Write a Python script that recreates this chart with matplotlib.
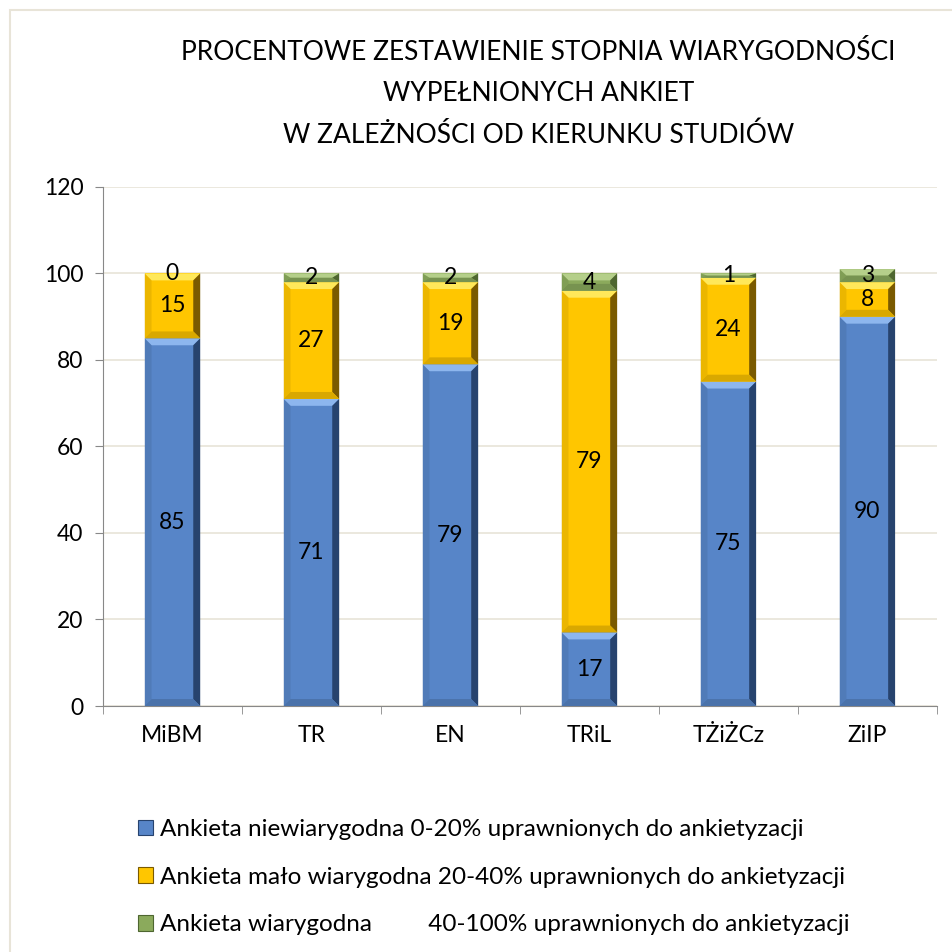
import numpy as np
import matplotlib
matplotlib.use("Agg")
import matplotlib.pyplot as plt
from matplotlib.patches import Polygon, Patch, Rectangle

plt.rcParams['font.family'] = ['Lato', 'DejaVu Sans']

# dane
kierunki = ["MiBM", "TR", "EN", "TRiL", "TŻiŻCz", "ZiIP"]
niewiarygodna = [85, 71, 79, 17, 75, 90]
malo_wiarygodna = [15, 27, 19, 79, 24, 8]
wiarygodna = [0, 2, 2, 4, 1, 3]
serie = [niewiarygodna, malo_wiarygodna, wiarygodna]
etykiety = [
    "Ankieta niewiarygodna 0-20% uprawnionych do ankietyzacji",
    "Ankieta mało wiarygodna 20-40% uprawnionych do ankietyzacji",
    "Ankieta wiarygodna         40-100% uprawnionych do ankietyzacji",
]
kolory = ["#5785C8", "#FFC600", "#8BAA5C"]
jasne = ["#8DB6EE", "#FFE85A", "#B5CF8A"]
ciemne = ["#27436E", "#7A5A00", "#4E6630"]
ciemne2 = ["#4A72AA", "#D9A800", "#779350"]

fig = plt.figure(figsize=(9.53, 9.52), dpi=100)
ax = fig.add_axes([0.108, 0.2584, 0.875, 0.5452])

# ramka wykresu
fig.patches.append(Rectangle((0.011, -0.05), 1.2, 1.04, transform=fig.transFigure,
                             fill=False, edgecolor="#E8E4D8", linewidth=1.5))

x = np.arange(len(kierunki))
width = 0.4
bottom = np.zeros(len(kierunki))
bx = 0.05   # bevel w jednostkach osi x
by = 1.6    # bevel w jednostkach osi y

for i, vals in enumerate(serie):
    vals = np.array(vals, dtype=float)
    ax.bar(x, vals, width, bottom=bottom, color=kolory[i], zorder=2)
    for xi, b, h in zip(x, bottom, vals):
        if h <= 0:
            continue
        l, r = xi - width / 2, xi + width / 2
        t = b + h
        dy = min(by, h / 2)
        dx = bx
        # gorna faseta (jasna)
        ax.add_patch(Polygon([(l, t), (r, t), (r - dx, t - dy), (l + dx, t - dy)],
                             closed=True, color=jasne[i], lw=0, zorder=3))
        # prawa faseta (ciemna)
        ax.add_patch(Polygon([(r, t), (r, b), (r - dx, b + dy), (r - dx, t - dy)],
                             closed=True, color=ciemne[i], lw=0, zorder=3))
        # dolna faseta
        ax.add_patch(Polygon([(l, b), (r, b), (r - dx, b + dy), (l + dx, b + dy)],
                             closed=True, color=ciemne2[i], lw=0, zorder=3))
        # lewa faseta
        ax.add_patch(Polygon([(l, b), (l, t), (l + dx, t - dy), (l + dx, b + dy)],
                             closed=True, color=ciemne2[i], lw=0, zorder=3, alpha=0.5))
    for xi, b, h in zip(x, bottom, vals):
        ax.text(xi, b + h / 2, f"{int(h)}", ha="center", va="center",
                fontsize=16.5, color="black", zorder=4)
    bottom = bottom + vals

ax.set_xlim(-0.5, len(kierunki) - 0.5)
ax.set_ylim(0, 120)
ax.set_yticks(range(0, 121, 20))
ax.set_xticks(x)
ax.set_xticklabels(kierunki)
ax.set_xticks(np.arange(-0.5, len(kierunki)), minor=True)
ax.tick_params(axis="x", which="major", length=0, pad=14, labelsize=16.5)
ax.tick_params(axis="x", which="minor", length=6, color="#888888", direction="out")
ax.tick_params(axis="y", length=6, color="#888888", labelsize=16.5, pad=8)
ax.grid(axis="y", color="#E8E4D8", linewidth=1.2, zorder=0)
ax.set_axisbelow(True)
for s in ["top", "right"]:
    ax.spines[s].set_visible(False)
for s in ["left", "bottom"]:
    ax.spines[s].set_color("#888888")

fig.text(0.565, 0.958, "PROCENTOWE ZESTAWIENIE STOPNIA WIARYGODNOŚCI\nWYPEŁNIONYCH ANKIET\nW ZALEŻNOŚCI OD KIERUNKU STUDIÓW",
         ha="center", va="top", fontsize=19, linespacing=1.8)

uchwyty = [Patch(facecolor=kolory[i], edgecolor=ciemne[i], linewidth=0.8) for i in range(3)]
fig.legend(uchwyty, etykiety, loc="upper left", bbox_to_anchor=(0.135, 0.15),
           frameon=False, fontsize=17.5, handlelength=0.6, handleheight=0.6,
           handletextpad=0.3, labelspacing=1.1, borderaxespad=0)

fig.savefig("out.png", dpi=100)
